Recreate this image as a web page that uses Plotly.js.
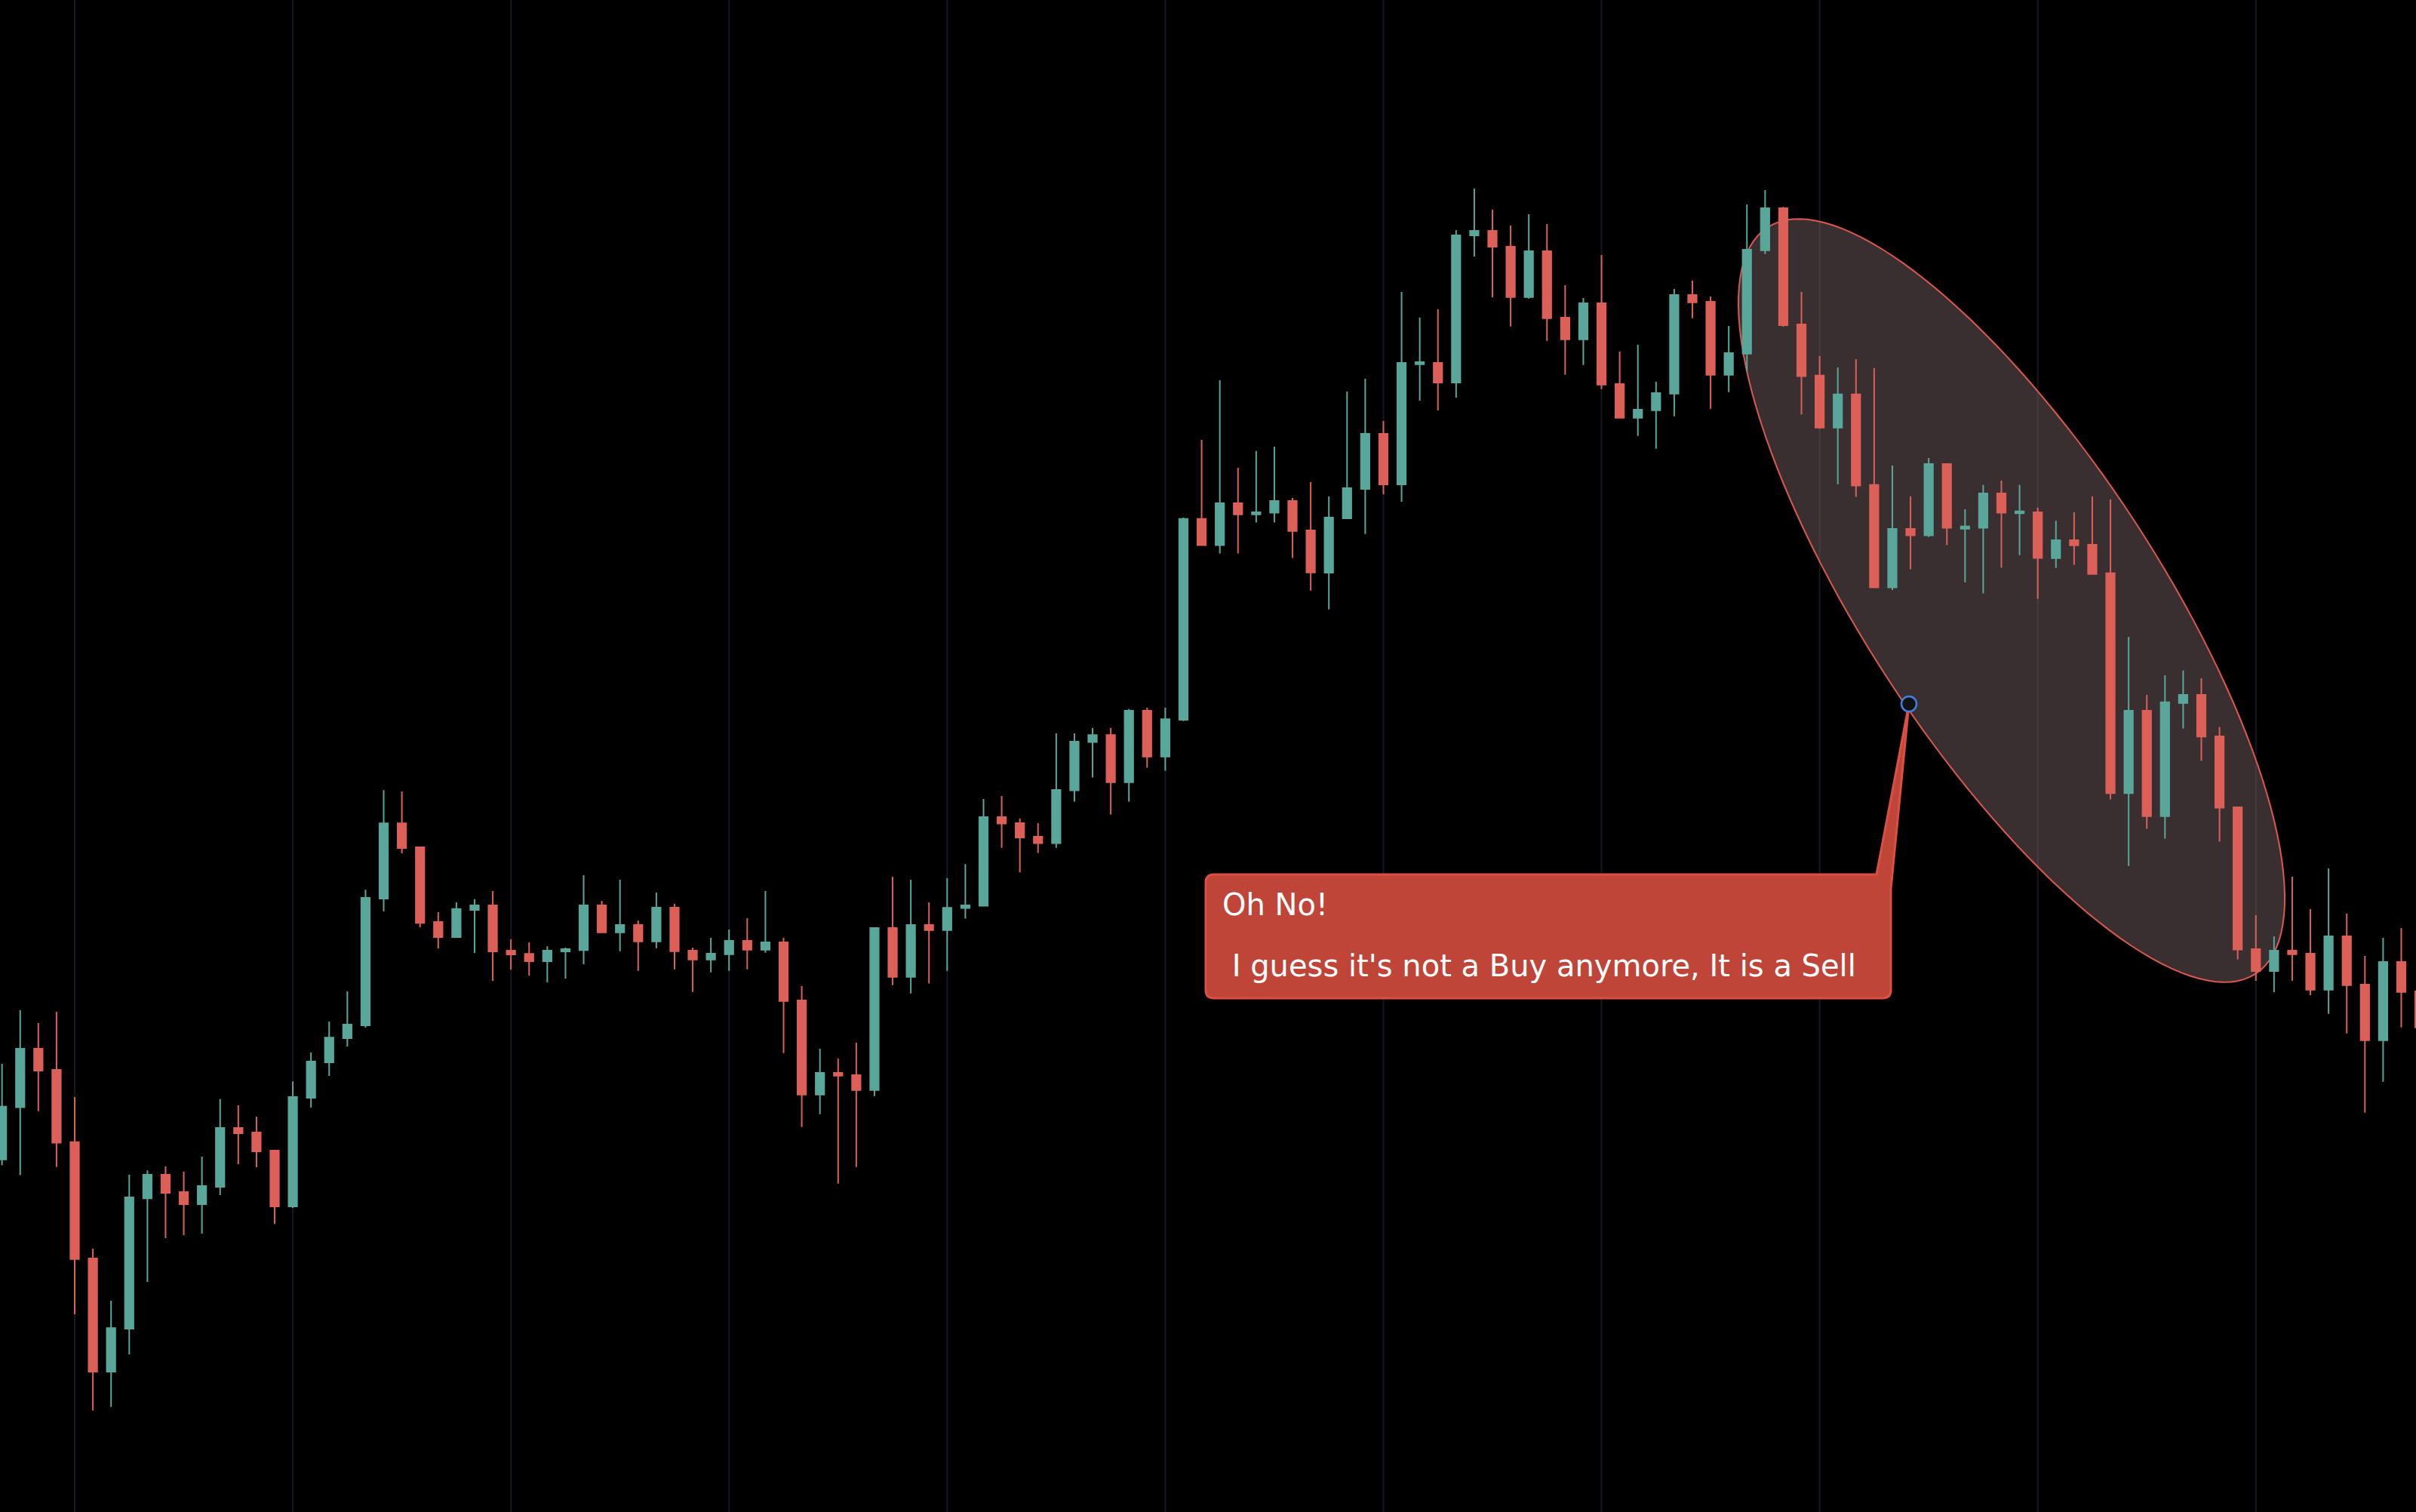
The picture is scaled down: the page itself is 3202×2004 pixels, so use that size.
<!DOCTYPE html>
<html>
<head>
<meta charset="utf-8">
<script src="https://cdn.plot.ly/plotly-3.0.1.min.js"></script>
<style>
  html, body { margin: 0; padding: 0; background: #000; }
  #chart { width: 3202px; height: 2004px; }
</style>
</head>
<body>
<div id="chart"></div>
<script>
// ---- Data (arbitrary price units) ----
const openP = [46.73,53.64,61.41,58.6,49.02,33.6,18.61,24.31,41.58,44.7,42.4,40.81,43.1,50.91,50.31,47.91,40.51,54.9,59.59,62.81,
64.49,81.29,91.28,88.1,78.19,76.2,79.8,80.41,74.4,73.98,72.99,74.29,74.48,80.41,76.83,77.8,75.63,80.1,74.4,73.23,
73.93,75.7,74.53,75.5,67.8,55.33,58.2,57.9,55.93,77.4,70.93,77.8,77.13,80.04,80.35,92.09,91.29,89.5,88.65,95.66,
102.04,102.98,96.73,106.2,100.12,105.01,131.62,128.15,133.69,132.22,132.44,134.0,130.1,124.5,131.7,135.6,142.9,136.2,152.13,152.3,
149.7,169.2,169.8,167.7,161.03,167.1,158.3,155.43,160.2,149.5,145.03,146.03,148.23,161.3,160.4,150.73,153.53,167.23,172.79,157.4,
150.62,143.72,148.12,136.12,122.55,130.3,129.44,138.9,130.33,130.44,135.01,132.37,132.51,126.43,128.79,128.21,124.42,95.27,106.21,92.23,
107.23,108.3,102.81,93.39,74.6,71.7,74.4,74.0,69.23,76.3,69.9,62.53,72.9,69.0];

const highP = [59.41,66.52,64.81,66.3,55.01,34.89,28.01,44.7,45.28,45.8,45.1,47.1,54.72,53.9,52.39,47.91,57.08,60.9,64.99,69.01,
82.48,95.68,95.49,88.1,79.5,80.8,81.22,82.29,75.9,75.51,74.98,74.79,84.39,81.0,83.8,78.4,82.1,80.6,74.8,76.1,
77.2,78.7,82.3,76.1,69.7,61.4,60.1,62.2,77.4,84.2,83.8,80.8,84.01,85.88,94.5,94.9,91.91,91.29,103.2,103.2,
103.92,103.92,106.42,106.6,106.6,131.8,142.11,150.01,138.4,140.62,141.19,134.4,136.5,134.6,148.5,150.2,144.6,161.7,158.3,159.4,
169.9,175.4,172.6,170.5,172.0,170.7,162.6,160.9,166.6,153.8,154.7,149.8,162.1,163.2,161.1,157.2,173.3,175.2,172.97,161.69,
153.19,151.69,152.8,151.62,138.69,134.62,139.69,138.9,132.9,136.12,136.69,136.12,133.12,131.38,132.5,134.6,134.2,115.98,108.3,110.89,
111.52,110.49,104.06,93.39,79.1,76.3,84.2,79.9,85.3,79.3,73.7,76.1,77.4,71.4];

const lowP = [45.95,44.65,53.13,45.73,26.2,13.44,13.92,20.91,30.49,36.3,36.7,36.89,41.99,46.1,45.69,38.18,40.29,53.61,57.8,61.7,
64.19,79.61,87.3,77.5,74.71,76.2,74.1,70.39,71.88,71.11,70.2,70.7,72.61,76.82,74.33,71.73,74.73,71.93,68.93,71.53,
71.73,71.93,74.13,60.83,51.03,52.73,43.53,45.73,55.13,69.83,68.73,70.04,71.73,78.65,80.35,88.03,84.77,87.36,88.03,94.14,
97.36,92.45,94.14,98.65,98.25,104.83,128.15,127.05,127.05,131.15,131.15,126.44,122.13,119.63,131.7,129.63,134.9,133.9,147.3,146.0,
147.7,166.4,161.0,157.13,160.83,155.23,150.73,152.03,148.83,145.03,142.63,140.93,145.23,158.23,146.23,148.43,151.23,166.73,157.11,145.44,
143.54,136.22,134.55,122.55,122.19,124.94,129.23,128.16,123.22,121.76,125.15,126.83,121.05,125.13,125.53,124.33,94.46,85.63,90.54,89.24,
103.84,99.55,88.84,73.26,70.4,68.9,70.4,68.5,66.03,63.43,52.93,57.03,64.23,62.4];

const closeP = [53.72,61.41,58.49,48.95,33.52,18.61,24.38,41.7,44.7,42.29,40.81,43.21,50.91,50.2,47.8,40.51,55.01,59.71,62.88,64.61,
81.41,91.28,87.99,78.08,76.2,79.92,80.41,74.29,73.91,72.99,74.4,74.6,80.41,76.82,77.8,75.63,80.1,74.33,73.23,74.0,
75.7,74.53,75.5,67.73,55.33,58.2,57.83,55.93,77.4,70.93,77.8,77.13,80.08,80.4,92.09,91.24,89.41,88.65,95.7,102.09,
102.98,96.73,106.2,100.12,105.08,131.62,128.15,133.69,132.22,132.51,134.01,130.03,124.53,131.8,135.7,142.9,136.2,152.3,152.4,149.7,
169.2,169.8,167.7,161.03,167.1,158.23,155.43,160.2,149.43,145.03,146.1,148.3,161.3,160.33,150.73,153.6,167.3,172.8,157.29,150.55,
143.72,148.12,136.05,122.55,130.3,129.44,138.9,130.44,130.62,135.01,132.44,132.62,126.44,128.79,128.12,124.33,95.27,106.21,92.23,107.32,
108.3,102.77,93.35,74.55,71.7,74.4,73.93,69.23,76.3,69.83,62.53,72.9,68.93,64.23];

const barIndex = openP.map((_, i) => i);

// vertical grid: every 12th bar, starting at bar 4
const gridStart = 4, gridStep = 12;

const noteTitle = "Oh No!";
const noteBody = "\u00A0I guess it's not a Buy anymore, It is a Sell";

// ---- Styling / geometry (screen pixels of the 3202x2004 canvas) ----
const W = 3202, H = 2004;
const UP = '#59a69a', DOWN = '#dc6058';
function pp(x, y) { return (x / W).toFixed(5) + ',' + (1 - y / H).toFixed(5); }

// rotated ellipse outline
const ell = { cx: 2666, cy: 796, a: 591, b: 194, phi: 56.8 * Math.PI / 180 };
let ellPath = '';
for (let k = 0; k <= 144; k++) {
  const t = 2 * Math.PI * k / 144;
  const u = ell.a * Math.cos(t), v = ell.b * Math.sin(t);
  const x = ell.cx + u * Math.cos(ell.phi) - v * Math.sin(ell.phi);
  const y = ell.cy + u * Math.sin(ell.phi) + v * Math.cos(ell.phi);
  ellPath += (k ? ' L' : 'M') + pp(x, y);
}
ellPath += ' Z';

// callout box with pointer
const bx0 = 1598, by0 = 1159, bx1 = 2506, by1 = 1323, r = 11;
const tip = { x: 2530, y: 933 };
const calloutPath =
  'M' + pp(bx0 + r, by0) +
  ' L' + pp(2487, by0) +
  ' L' + pp(tip.x, tip.y) +
  ' L' + pp(bx1, 1178) +
  ' L' + pp(bx1, by1 - r) +
  ' Q' + pp(bx1, by1) + ' ' + pp(bx1 - r, by1) +
  ' L' + pp(bx0 + r, by1) +
  ' Q' + pp(bx0, by1) + ' ' + pp(bx0, by1 - r) +
  ' L' + pp(bx0, by0 + r) +
  ' Q' + pp(bx0, by0) + ' ' + pp(bx0 + r, by0) + ' Z';

const trace = {
  type: 'candlestick',
  x: barIndex,
  open: openP, high: highP, low: lowP, close: closeP,
  increasing: { line: { color: UP, width: 2 }, fillcolor: UP },
  decreasing: { line: { color: DOWN, width: 2 }, fillcolor: DOWN },
  whiskerwidth: 0,
  hoverinfo: 'skip',
  showlegend: false
};

const shapes = [];
for (let g = gridStart; g < barIndex.length; g += gridStep) {
  shapes.push({
    type: 'line', xref: 'x', yref: 'paper', layer: 'below',
    x0: g, x1: g, y0: 0, y1: 1,
    line: { color: '#161824', width: 2 }
  });
}
shapes.push(
  {
    type: 'path', xref: 'paper', yref: 'paper', layer: 'below',
    path: ellPath,
    fillcolor: 'rgba(116,94,96,0.5)',
    line: { color: '#e0584c', width: 2 }
  },
  {
    type: 'path', xref: 'paper', yref: 'paper', layer: 'above',
    path: calloutPath,
    fillcolor: 'rgba(200,72,59,0.96)',
    line: { color: '#dd4f41', width: 3 }
  },
  {
    type: 'circle', xref: 'paper', yref: 'paper', layer: 'above',
    xsizemode: 'pixel', ysizemode: 'pixel',
    xanchor: tip.x / W, yanchor: 1 - tip.y / H,
    x0: -10, x1: 10, y0: -10, y1: 10,
    fillcolor: '#111111',
    line: { color: '#3f7fe6', width: 2.5 }
  }
);

const layout = {
  width: W, height: H,
  margin: { l: 0, r: 0, t: 0, b: 0, pad: 0 },
  paper_bgcolor: '#000000',
  plot_bgcolor: '#000000',
  showlegend: false,
  boxgap: 0.335,
  xaxis: {
    type: 'linear',
    range: [-0.110, 132.81],
    showgrid: false,
    showticklabels: false, ticks: '', zeroline: false, showline: false,
    rangeslider: { visible: false }, fixedrange: true
  },
  yaxis: {
    range: [0, 200.4],
    showgrid: false,
    showticklabels: false, ticks: '', zeroline: false, showline: false,
    fixedrange: true
  },
  shapes: shapes,
  annotations: [
    {
      xref: 'paper', yref: 'paper', x: 1618 / W, y: 1 - 1199 / H,
      xanchor: 'left', yanchor: 'middle', showarrow: false,
      text: noteTitle,
      font: { family: 'DejaVu Sans', size: 40, color: '#ffffff' }
    },
    {
      xref: 'paper', yref: 'paper', x: 1618 / W, y: 1 - 1279.5 / H,
      xanchor: 'left', yanchor: 'middle', showarrow: false,
      text: noteBody,
      font: { family: 'DejaVu Sans', size: 40, color: '#ffffff' }
    }
  ]
};

Plotly.newPlot('chart', [trace], layout, { staticPlot: true, displayModeBar: false });
</script>
</body>
</html>
